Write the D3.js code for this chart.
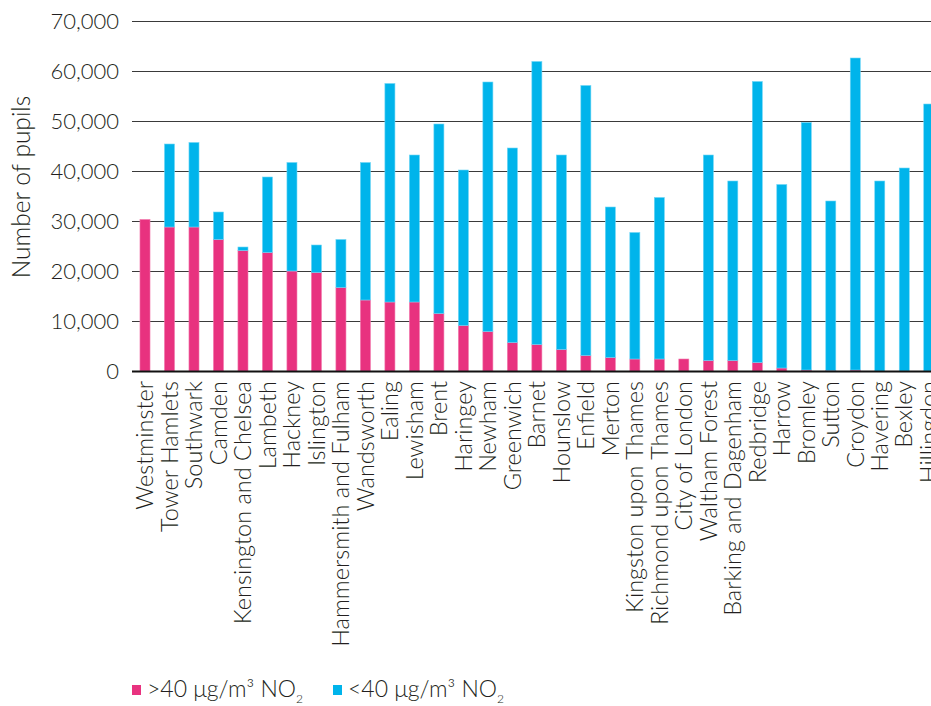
<!DOCTYPE html>
<html>
<head>
<meta charset="utf-8">
<script src="https://cdn.jsdelivr.net/npm/d3@7"></script>
<style>
  html, body { margin: 0; padding: 0; background: #fff; }
  svg { display: block; }
  text { font-family: Lato, "Open Sans", sans-serif; font-weight: 300; fill: #231f20; }
</style>
</head>
<body>
<svg id="chart" width="931" height="706"></svg>
<script>
const boroughs = ["Westminster","Tower Hamlets","Southwark","Camden","Kensington and Chelsea","Lambeth","Hackney","Islington","Hammersmith and Fulham","Wandsworth","Ealing","Lewisham","Brent","Haringey","Newham","Greenwich","Barnet","Hounslow","Enfield","Merton","Kingston upon Thames","Richmond upon Thames","City of London","Waltham Forest","Barking and Dagenham","Redbridge","Harrow","Bromley","Sutton","Croydon","Havering","Bexley","Hillingdon"];
const above40 = [30300,28800,28800,26300,24100,23700,20000,19700,16700,14200,13800,13800,11500,9100,7900,5700,5300,4300,3100,2700,2400,2400,2400,2100,2100,1700,600,200,100,200,0,0,0];
const below40 = [0,16600,16900,5500,700,15100,21700,5500,9600,27500,43700,29400,37900,31100,49900,38900,56600,38900,54000,30100,25300,32300,0,41100,35900,56200,36700,49500,33900,62400,38000,40600,53400];
const yTicks = [0,10000,20000,30000,40000,50000,60000,70000];
const seriesNames = ["above", "below"];
const seriesLabels = [">40 μg/m³ NO", "<40 μg/m³ NO"];
const colors = ["#e8327f", "#00b4eb"];
const strokes = ["#f27aae", "#6fd6f6"];

const svg = d3.select("#chart");
const W = 931;
const x = d3.scaleBand().domain(boroughs).range([132.75, 941]).paddingInner(0.59).paddingOuter(0.295);
const y = d3.scaleLinear().domain([0, 70000]).range([371, 21]);

const fmt = d3.format(",");

// gridlines
const grid = svg.append("g");
yTicks.filter(t => t > 0).forEach(t => {
  grid.append("line").attr("x1", 132).attr("x2", W)
    .attr("y1", Math.round(y(t)) + 0.5).attr("y2", Math.round(y(t)) + 0.5)
    .attr("stroke", "#3a3a3a").attr("stroke-width", 1.2);
});

// y axis labels
const yAxis = d3.axisLeft(y).tickValues(yTicks).tickFormat(fmt).tickSize(0).tickPadding(0);
const ya = svg.append("g").attr("transform", "translate(119,0)").call(yAxis);
ya.select(".domain").remove();
ya.selectAll("text").attr("font-size", 22).attr("font-family", "Lato, 'Open Sans', sans-serif").attr("font-weight", 300).attr("fill", "#231f20").attr("dy", "0.36em");

// data stacking
const rows = boroughs.map((b, i) => ({ name: b, above: above40[i], below: below40[i] }));
const stack = d3.stack().keys(seriesNames)(rows);

stack.forEach((layer, li) => {
  svg.append("g").selectAll("rect").data(layer).join("rect")
    .attr("x", (d, i) => x(boroughs[i]))
    .attr("width", x.bandwidth())
    .attr("y", d => y(d[1]))
    .attr("height", d => Math.max(0, y(d[0]) - y(d[1])))
    .attr("fill", colors[li])
    .attr("stroke", d => (d[1] - d[0]) > 0 ? strokes[li] : "none")
    .attr("stroke-width", 0.6);
});

// baseline
svg.append("line").attr("x1", 132).attr("x2", W).attr("y1", 371.5).attr("y2", 371.5)
  .attr("stroke", "#111").attr("stroke-width", 2.2);

// x axis labels
const xa = svg.append("g").attr("transform", "translate(0,371)")
  .call(d3.axisBottom(x).tickSize(0).tickPadding(0));
xa.select(".domain").remove();
xa.selectAll("text")
  .attr("font-size", 23.5).attr("font-family", "Lato, 'Open Sans', sans-serif").attr("font-weight", 300).attr("fill", "#231f20")
  .attr("text-anchor", "end")
  .attr("transform", "rotate(-90)")
  .attr("x", -10).attr("y", 0).attr("dy", "0.35em");

// y title
svg.append("text").attr("transform", "translate(30,187) rotate(-90)")
  .attr("text-anchor", "middle").attr("font-size", 24.5).text("Number of pupils");

// legend
const legX = [132, 333];
seriesLabels.forEach((lab, i) => {
  const g = svg.append("g").attr("transform", `translate(${legX[i]},0)`);
  g.append("rect").attr("x", 0).attr("y", 685).attr("width", 9).attr("height", 10).attr("fill", colors[i]);
  const t = g.append("text").attr("x", 15).attr("y", 697).attr("font-size", 23);
  t.append("tspan").text(lab);
  t.append("tspan").attr("font-size", 12).attr("dy", 6).text("2");
});
</script>
</body>
</html>
